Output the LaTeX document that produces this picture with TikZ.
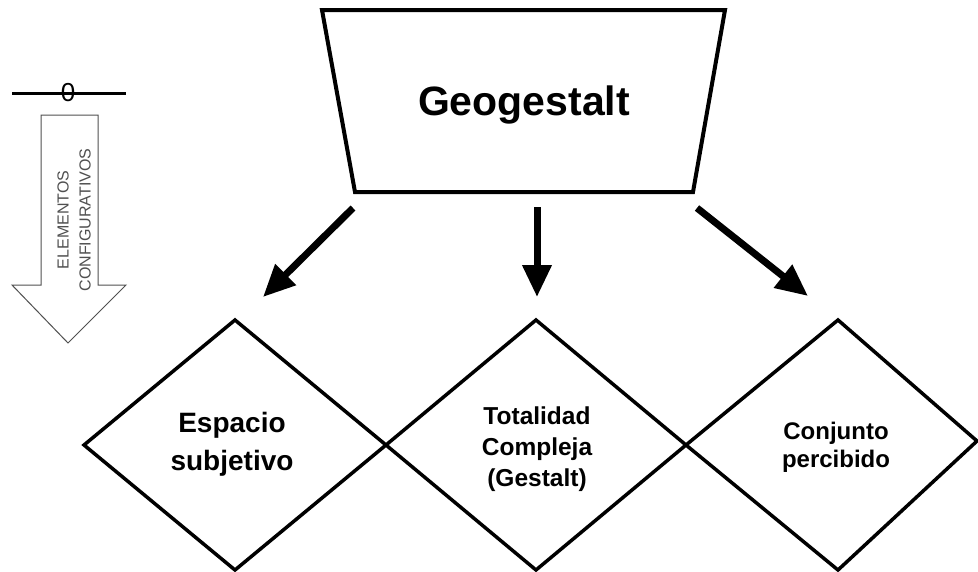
\documentclass[tikz,border=0pt]{standalone}
\usepackage{fontspec}
\setmainfont{Liberation Sans}
\usetikzlibrary{arrows.meta}

\definecolor{legendgray}{HTML}{505050}

\tikzset{
  outline/.style={draw=black, line width=3.5pt, line join=miter},
  bigarrow/.style={line width=7pt, -{Triangle[length=32pt,width=28pt]}},
  hollowarrow/.style={draw=legendgray, line width=1pt, fill=white},
  label/.style={font=\bfseries, align=center, inner sep=0pt},
}

\begin{document}
\begin{tikzpicture}[x=1pt, y=-1pt]
  \useasboundingbox (0,0) rectangle (978,571);
  \fill[white] (0,0) rectangle (978,571);

  % legend: baseline with zero and downward hollow arrow
  \coordinate (lineL) at (12,93);
  \coordinate (lineR) at (126,93);
  \draw[line width=3pt] (lineL) -- (lineR);
  \node[font=\fontsize{26}{26}\selectfont, inner sep=0pt] (zero) at (68,93) {0};
  \draw[hollowarrow] (41,115) -- (98,115) -- (98,285) -- (126,285)
        -- (68,343) -- (12,285) -- (41,285) -- cycle;
  \node[rotate=90, align=center, text=legendgray, inner sep=0pt,
        font=\fontsize{16}{22}\selectfont] (elem) at (74,220)
        {ELEMENTOS\\CONFIGURATIVOS};

  % top trapezoid
  \draw[outline, line width=4pt] (322,10) -- (725,10) -- (693,192) -- (355,192) -- cycle;
  \node[font=\bfseries\fontsize{41}{41}\selectfont, inner sep=0pt] (geo) at (524,105) {Geogestalt};

  % three diamonds in a row
  \draw[outline] (84,445) -- (235,320) -- (386,445) -- (235,570) -- cycle;
  \draw[outline] (386,445) -- (536,320) -- (686,445) -- (536,570) -- cycle;
  \draw[outline] (686,445) -- (838,320) -- (977,441) -- (838,570) -- cycle;

  % labels, anchored at the baseline of their last line
  \node[label, anchor=base, font=\bfseries\fontsize{28}{38}\selectfont] (esp) at (232,470)
        {Espacio\\subjetivo};
  \node[label, anchor=base, font=\bfseries\fontsize{24.5}{31}\selectfont] (tot) at (537,486)
        {Totalidad\\Compleja\\(Gestalt)};
  \node[label, anchor=base, font=\bfseries\fontsize{24}{28}\selectfont] (con) at (836,467)
        {Conjunto\\percibido};

  % arrows from the trapezoid to the diamonds
  \coordinate (aLs) at (353,208);
  \coordinate (aLe) at (263,297);
  \coordinate (aMs) at (537,207);
  \coordinate (aMe) at (537,297);
  \coordinate (aRs) at (697,208);
  \coordinate (aRe) at (808,296);
  \draw[bigarrow] (aLs) -- (aLe);
  \draw[bigarrow] (aMs) -- (aMe);
  \draw[bigarrow] (aRs) -- (aRe);
\end{tikzpicture}
\end{document}
